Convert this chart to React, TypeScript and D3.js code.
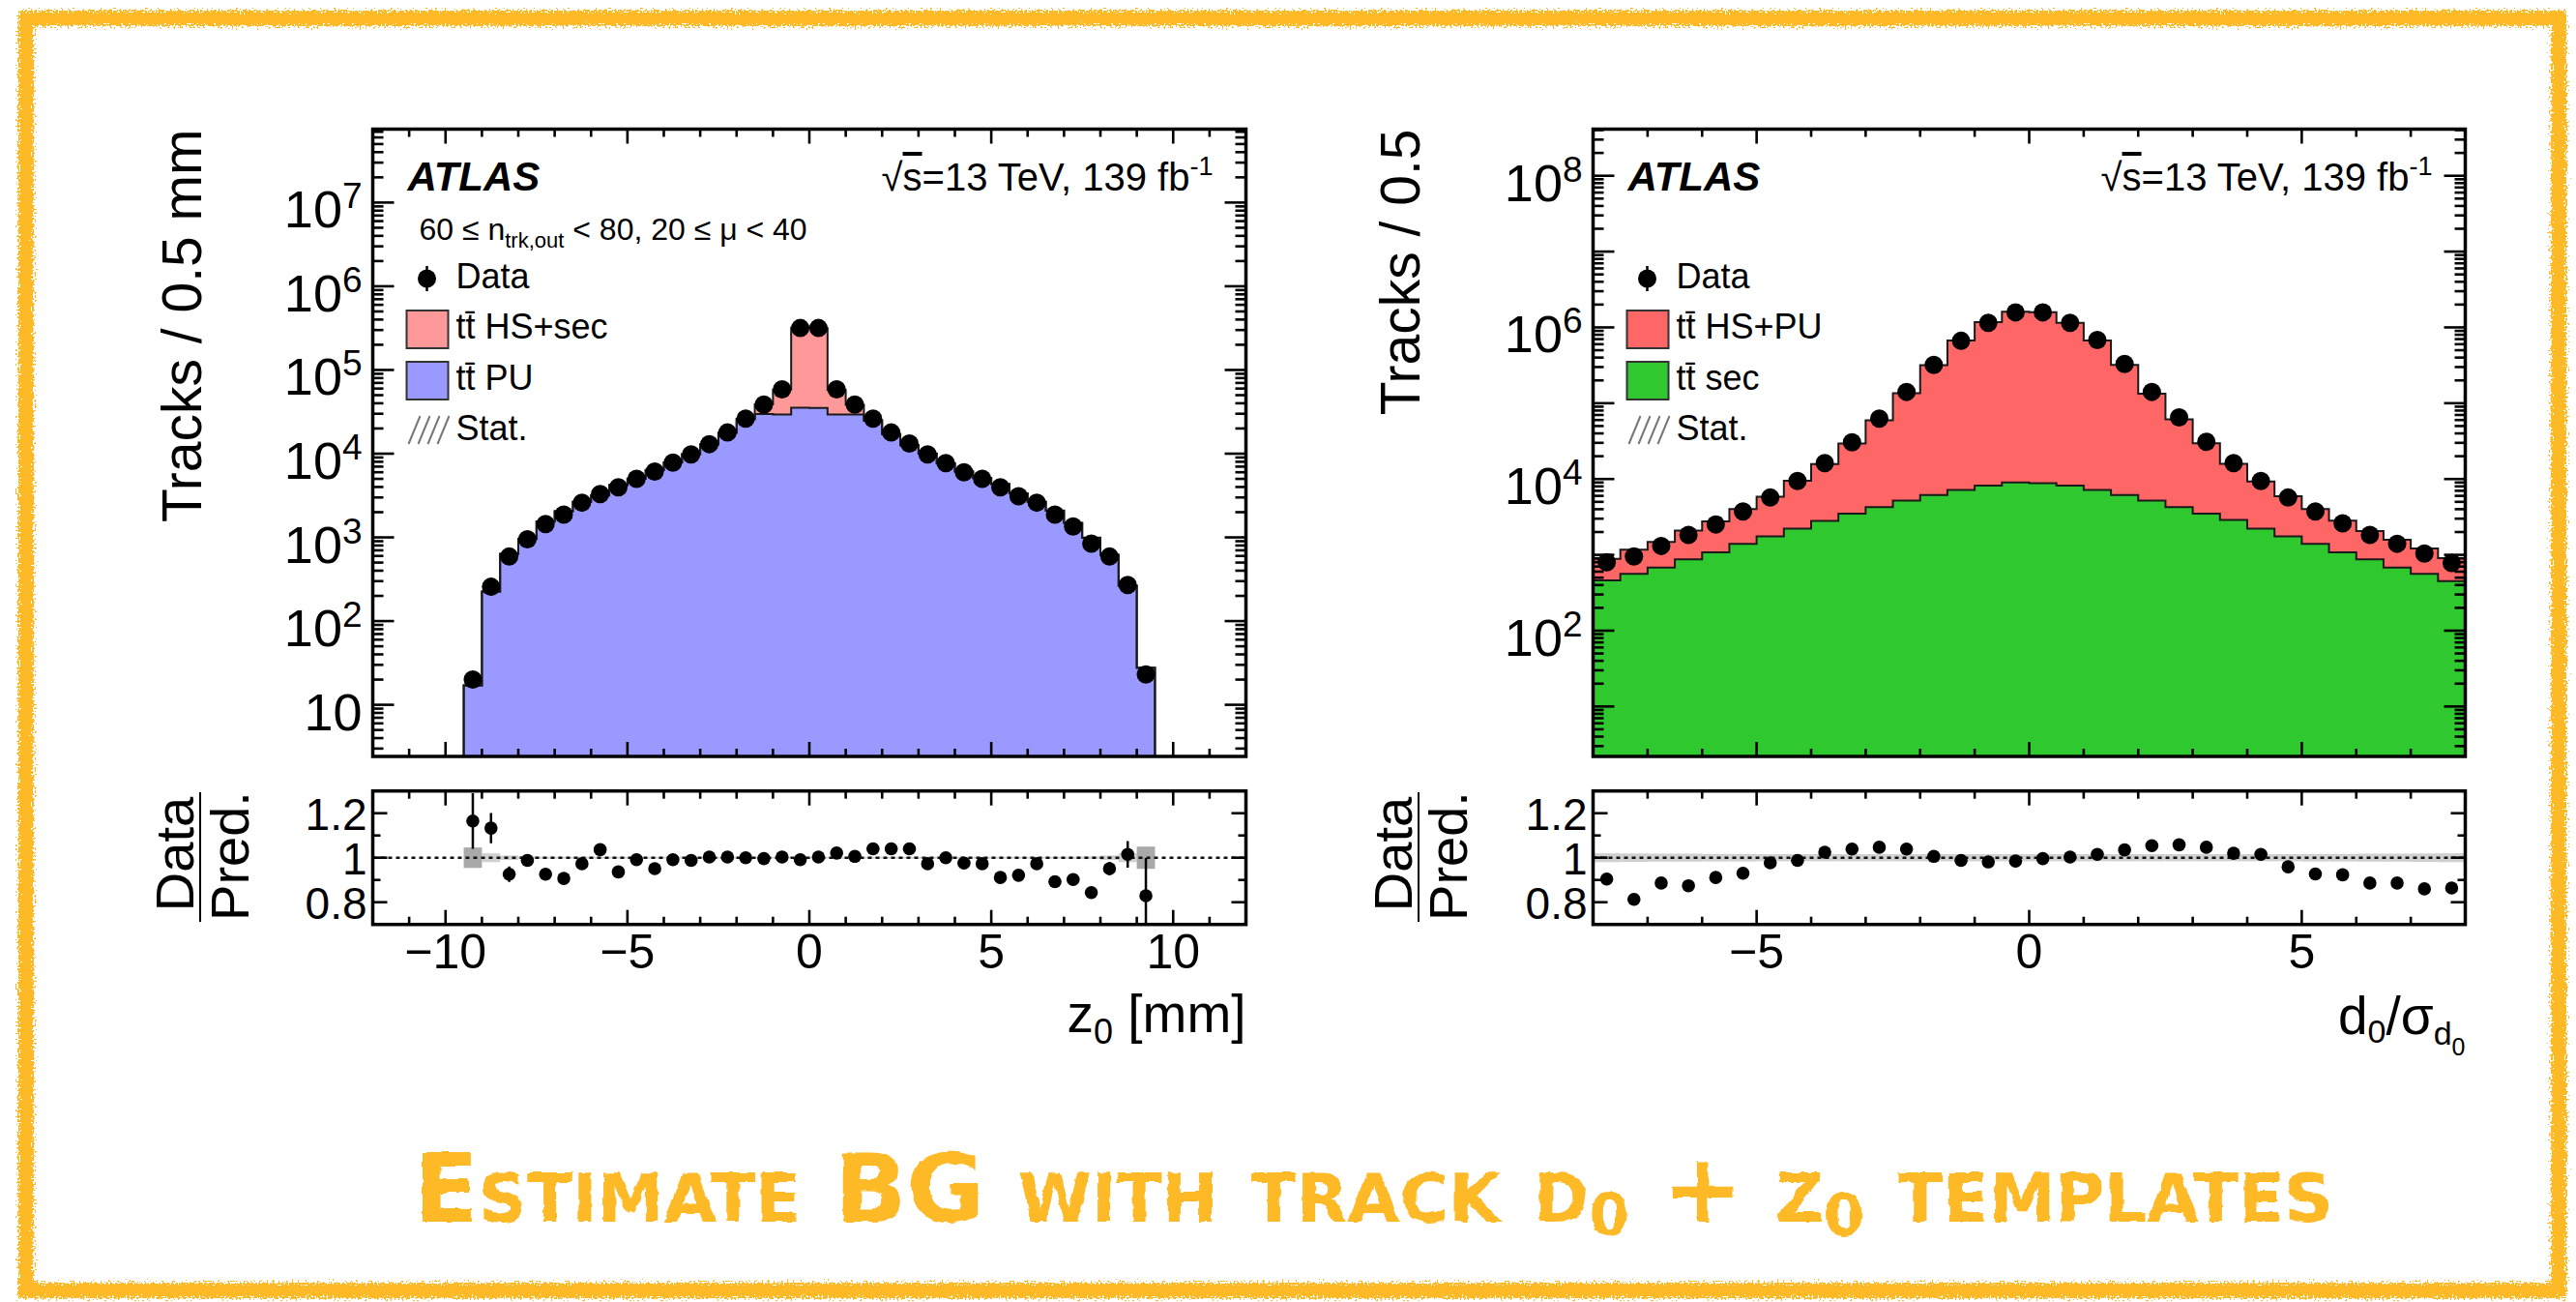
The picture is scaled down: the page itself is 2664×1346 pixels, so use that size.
import React from "react";
import * as d3 from "d3";

const FONT = "'Liberation Sans', Arial, Helvetica, sans-serif";

// ---------------- z0 panel (left) ----------------
const Z0_BIN_CENTERS = [-9.25, -8.75, -8.25, -7.75, -7.25, -6.75, -6.25, -5.75, -5.25, -4.75, -4.25, -3.75, -3.25, -2.75, -2.25, -1.75, -1.25, -0.75, -0.25, 0.25, 0.75, 1.25, 1.75, 2.25, 2.75, 3.25, 3.75, 4.25, 4.75, 5.25, 5.75, 6.25, 6.75, 7.25, 7.75, 8.25, 8.75, 9.25];
const Z0_DATA = [20, 257, 590, 950, 1440, 1870, 2600, 3300, 3960, 5000, 6100, 7800, 9800, 13000, 17900, 26300, 38600, 58600, 317000, 317000, 58600, 38600, 26300, 17900, 13200, 9800, 7700, 6000, 5000, 3960, 3100, 2600, 1870, 1350, 840, 590, 270, 23];
const Z0_RATIO = [1.165, 1.133, 0.926, 0.988, 0.926, 0.907, 0.973, 1.036, 0.936, 0.991, 0.951, 0.991, 0.988, 1.003, 1.003, 1.0, 0.996, 1.003, 0.991, 1.003, 1.021, 1.006, 1.04, 1.04, 1.04, 0.973, 1.0, 0.976, 0.973, 0.911, 0.921, 0.973, 0.892, 0.902, 0.843, 0.951, 1.015, 0.829];
const Z0_RATIO_ERR = [0.125, 0.068, 0.035, 0.02, 0.015, 0.012, 0.01, 0.01, 0.01, 0.008, 0.008, 0.006, 0.006, 0.005, 0.005, 0.005, 0.004, 0.004, 0.002, 0.002, 0.004, 0.004, 0.005, 0.005, 0.005, 0.006, 0.006, 0.008, 0.008, 0.01, 0.01, 0.01, 0.012, 0.015, 0.02, 0.03, 0.06, 0.17];
const Z0_HS_SEC = [0.2, 3, 6, 9, 13, 17, 23, 29, 36, 45, 55, 70, 90, 120, 170, 500, 9000, 29000, 284500, 281000, 28000, 9000, 500, 170, 120, 90, 70, 55, 45, 36, 29, 23, 17, 13, 9, 6, 3, 0.2];
const Z0_MC_STAT = [0.046, 0.02, 0.01, 0.006, 0.005, 0.004, 0.004, 0.004, 0.004, 0.004, 0.004, 0.004, 0.004, 0.004, 0.004, 0.004, 0.004, 0.004, 0.004, 0.004, 0.004, 0.004, 0.004, 0.004, 0.004, 0.004, 0.004, 0.004, 0.004, 0.004, 0.004, 0.004, 0.004, 0.005, 0.006, 0.01, 0.02, 0.05];
const Z0_X_TICK_LABELS = [-10, -5, 0, 5, 10];
const Z0_Y_LABEL_EXPONENTS = [1, 2, 3, 4, 5, 6, 7];

// ---------------- d0 significance panel (right) ----------------
const D0_BIN_CENTERS = [-7.75, -7.25, -6.75, -6.25, -5.75, -5.25, -4.75, -4.25, -3.75, -3.25, -2.75, -2.25, -1.75, -1.25, -0.75, -0.25, 0.25, 0.75, 1.25, 1.75, 2.25, 2.75, 3.25, 3.75, 4.25, 4.75, 5.25, 5.75, 6.25, 6.75, 7.25, 7.75];
const D0_DATA = [800, 950, 1310, 1830, 2520, 3730, 5700, 9400, 16200, 30500, 62500, 141000, 320000, 665000, 1150000, 1580000, 1580000, 1150000, 680000, 330000, 141000, 65000, 31000, 16200, 9400, 5700, 3730, 2600, 1830, 1400, 1040, 780];
const D0_RATIO = [0.904, 0.813, 0.886, 0.874, 0.911, 0.93, 0.977, 0.988, 1.025, 1.039, 1.047, 1.039, 1.006, 0.988, 0.981, 0.985, 0.996, 1.003, 1.015, 1.035, 1.054, 1.058, 1.047, 1.02, 1.015, 0.959, 0.927, 0.923, 0.886, 0.886, 0.86, 0.864];
const D0_RATIO_ERR = [0.01, 0.01, 0.009, 0.008, 0.007, 0.006, 0.005, 0.004, 0.003, 0.002, 0.002, 0.001, 0.001, 0.001, 0.001, 0.001, 0.001, 0.001, 0.001, 0.001, 0.001, 0.002, 0.002, 0.003, 0.004, 0.005, 0.006, 0.007, 0.008, 0.009, 0.01, 0.01];
const D0_SEC = [460, 560, 680, 870, 1080, 1400, 1750, 2220, 2800, 3500, 4270, 5200, 6150, 7200, 8200, 9000, 8800, 8200, 7200, 6150, 5200, 4270, 3500, 2890, 2220, 1750, 1400, 1080, 870, 680, 560, 450];
const D0_MC_STAT = [0.02, 0.019, 0.018, 0.018, 0.017, 0.017, 0.016, 0.016, 0.016, 0.016, 0.016, 0.016, 0.016, 0.016, 0.016, 0.016, 0.016, 0.016, 0.016, 0.016, 0.016, 0.016, 0.016, 0.016, 0.016, 0.016, 0.017, 0.017, 0.018, 0.018, 0.019, 0.02];
const D0_X_TICK_LABELS = [-5, 0, 5];
const D0_Y_LABEL_EXPONENTS = [2, 4, 6, 8];

const RATIO_TICK_LABELS = [0.8, 1, 1.2];

// ---------------- layout ----------------
const Y_TOP = 133.5;
const Y_BOT = 782;
const R_TOP = 817.7;
const R_BOT = 955.7;
const ORANGE = "#fdb927";

type PanelCfg = {
  id: string;
  x0: number;
  x1: number;
  xDomain: [number, number];
  yExp: [number, number];
  centers: number[];
  binW: number;
  data: number[];
  ratio: number[];
  ratioErr: number[];
  mcStat: number[];
  lower: number[];
  total: number[];
  lowerColor: string;
  upperColor: string;
  upperLabel: string;
  lowerLabel: string;
  yLabelExps: number[];
  xTickLabels: number[];
  yTitle: string;
  subtitle: boolean;
  xTitle: "z0" | "d0";
  labelShift: number;
};

const z0Total = Z0_DATA.map((d, i) => d / Z0_RATIO[i]);
const d0Total = D0_DATA.map((d, i) => d / D0_RATIO[i]);

const LEFT: PanelCfg = {
  id: "L",
  x0: 385.5,
  x1: 1288.5,
  xDomain: [-12, 12],
  yExp: [0.383, 7.877],
  centers: Z0_BIN_CENTERS,
  binW: 0.5,
  data: Z0_DATA,
  ratio: Z0_RATIO,
  ratioErr: Z0_RATIO_ERR,
  mcStat: Z0_MC_STAT,
  lower: z0Total.map((t, i) => t - Z0_HS_SEC[i]),
  total: z0Total,
  lowerColor: "#9999ff",
  upperColor: "#ff9999",
  upperLabel: "HS+sec",
  lowerLabel: "PU",
  yLabelExps: Z0_Y_LABEL_EXPONENTS,
  xTickLabels: Z0_X_TICK_LABELS,
  yTitle: "Tracks / 0.5 mm",
  subtitle: true,
  xTitle: "z0",
  labelShift: 0,
};

const RIGHT: PanelCfg = {
  id: "R",
  x0: 1647.5,
  x1: 2549.5,
  xDomain: [-8, 8],
  yExp: [0.341, 8.615],
  centers: D0_BIN_CENTERS,
  binW: 0.5,
  data: D0_DATA,
  ratio: D0_RATIO,
  ratioErr: D0_RATIO_ERR,
  mcStat: D0_MC_STAT,
  lower: D0_SEC,
  total: d0Total,
  lowerColor: "#2fc82f",
  upperColor: "#ff6666",
  upperLabel: "HS+PU",
  lowerLabel: "sec",
  yLabelExps: D0_Y_LABEL_EXPONENTS,
  xTickLabels: D0_X_TICK_LABELS,
  yTitle: "Tracks / 0.5",
  subtitle: false,
  xTitle: "d0",
  labelShift: 1260,
};

const fmtMinus = (v: number) => (v < 0 ? "\u2212" + Math.abs(v) : String(v));

function Panel({ cfg }: { cfg: PanelCfg }) {
  const { x0, x1 } = cfg;
  const xs = d3.scaleLinear().domain(cfg.xDomain).range([x0, x1]);
  const ys = d3
    .scaleLog()
    .domain([Math.pow(10, cfg.yExp[0]), Math.pow(10, cfg.yExp[1])])
    .range([Y_BOT, Y_TOP])
    .clamp(true);
  const yr = d3.scaleLinear().domain([0.7, 1.3]).range([R_BOT, R_TOP]);

  const hw = cfg.binW / 2;
  const stepPts = (vals: number[]) => {
    const pts: [number, number][] = [];
    const lo = cfg.centers[0] - hw;
    const hi = cfg.centers[cfg.centers.length - 1] + hw;
    pts.push([lo, 1e-3]);
    cfg.centers.forEach((c, i) => {
      pts.push([c - hw, vals[i]]);
      pts.push([c + hw, vals[i]]);
    });
    pts.push([hi, 1e-3]);
    return pts;
  };
  const area = d3
    .area<[number, number]>()
    .x((d) => xs(d[0]))
    .y0(Y_BOT)
    .y1((d) => ys(d[1]));
  const line = d3
    .line<[number, number]>()
    .x((d) => xs(d[0]))
    .y((d) => ys(d[1]));

  // ticks
  const xMajor = d3.range(Math.ceil(cfg.xDomain[0] / 5) * 5, cfg.xDomain[1] + 1e-9, 5);
  const xMinor = d3
    .range(Math.ceil(cfg.xDomain[0]), cfg.xDomain[1] + 1e-9, 1)
    .filter((v) => Math.abs(v % 5) > 1e-9 && v > cfg.xDomain[0] && v < cfg.xDomain[1]);
  const yMajor: number[] = [];
  const yMinor: number[] = [];
  for (let e = Math.floor(cfg.yExp[0]); e <= Math.ceil(cfg.yExp[1]); e++) {
    if (e >= cfg.yExp[0] && e <= cfg.yExp[1]) yMajor.push(Math.pow(10, e));
    for (let k = 2; k <= 9; k++) {
      const v = k * Math.pow(10, e);
      const lv = Math.log10(v);
      if (lv > cfg.yExp[0] && lv < cfg.yExp[1]) yMinor.push(v);
    }
  }
  const rMajor = [0.8, 1.0, 1.2];
  const rMinor = [0.9, 1.1];

  const tickStroke = { stroke: "#000", strokeWidth: 2.6 };
  const lx = cfg.x0 + 35; // legend box x
  const legendRows = [298, 350, 403, 455];
  const sx = cfg.labelShift;

  return (
    <g>
      <defs>
        <clipPath id={`clipMain${cfg.id}`}>
          <rect x={x0} y={Y_TOP} width={x1 - x0} height={Y_BOT - Y_TOP} />
        </clipPath>
        <clipPath id={`clipRatio${cfg.id}`}>
          <rect x={x0} y={R_TOP} width={x1 - x0} height={R_BOT - R_TOP} />
        </clipPath>
      </defs>

      {/* ---------- main panel ---------- */}
      <g clipPath={`url(#clipMain${cfg.id})`}>
        <path d={area(stepPts(cfg.total)) || ""} fill={cfg.upperColor} />
        <path d={area(stepPts(cfg.lower)) || ""} fill={cfg.lowerColor} />
        <path d={line(stepPts(cfg.total)) || ""} fill="none" stroke="#1a1a1a" strokeWidth={2} />
        <path d={line(stepPts(cfg.lower)) || ""} fill="none" stroke="#1a1a1a" strokeWidth={2} />
      </g>
      {cfg.centers.map((c, i) => (
        <circle key={`m${i}`} cx={xs(c)} cy={ys(cfg.data[i])} r={9.5} fill="#000" />
      ))}
      <rect x={x0} y={Y_TOP} width={x1 - x0} height={Y_BOT - Y_TOP} fill="none" stroke="#000" strokeWidth={3.5} />

      {/* x ticks main (top & bottom) */}
      {xMajor.map((v) => (
        <g key={`xM${v}`}>
          <line x1={xs(v)} x2={xs(v)} y1={Y_TOP} y2={Y_TOP + 15} {...tickStroke} />
          <line x1={xs(v)} x2={xs(v)} y1={Y_BOT} y2={Y_BOT - 15} {...tickStroke} />
          <line x1={xs(v)} x2={xs(v)} y1={R_TOP} y2={R_TOP + 15} {...tickStroke} />
          <line x1={xs(v)} x2={xs(v)} y1={R_BOT} y2={R_BOT - 15} {...tickStroke} />
        </g>
      ))}
      {xMinor.map((v) => (
        <g key={`xm${v}`}>
          <line x1={xs(v)} x2={xs(v)} y1={Y_TOP} y2={Y_TOP + 8} {...tickStroke} />
          <line x1={xs(v)} x2={xs(v)} y1={Y_BOT} y2={Y_BOT - 8} {...tickStroke} />
          <line x1={xs(v)} x2={xs(v)} y1={R_TOP} y2={R_TOP + 8} {...tickStroke} />
          <line x1={xs(v)} x2={xs(v)} y1={R_BOT} y2={R_BOT - 8} {...tickStroke} />
        </g>
      ))}
      {/* y ticks main (left & right) */}
      {yMajor.map((v) => (
        <g key={`yM${v}`}>
          <line x1={x0} x2={x0 + 22} y1={ys(v)} y2={ys(v)} {...tickStroke} />
          <line x1={x1} x2={x1 - 22} y1={ys(v)} y2={ys(v)} {...tickStroke} />
        </g>
      ))}
      {yMinor.map((v) => (
        <g key={`ym${v}`}>
          <line x1={x0} x2={x0 + 11} y1={ys(v)} y2={ys(v)} {...tickStroke} />
          <line x1={x1} x2={x1 - 11} y1={ys(v)} y2={ys(v)} {...tickStroke} />
        </g>
      ))}
      {/* y tick labels */}
      {cfg.yLabelExps.map((e) => (
        <text key={`yl${e}`} x={x0 - 11} y={ys(Math.pow(10, e)) + 26} textAnchor="end" fontSize={54} fontFamily={FONT}>
          10
          {e !== 1 && (
            <tspan dy={-20} fontSize={37}>
              {e}
            </tspan>
          )}
        </text>
      ))}

      {/* y title */}
      <text
        transform={`translate(${208 + sx},${Y_TOP}) rotate(-90)`}
        textAnchor="end"
        fontSize={57}
        fontFamily={FONT}
      >
        {cfg.yTitle}
      </text>

      {/* ATLAS label etc */}
      <text x={x0 + 36} y={197} fontSize={42} fontWeight="bold" fontStyle="italic" fontFamily={FONT}>
        ATLAS
      </text>
      <text x={x1 - 34} y={197} textAnchor="end" fontSize={40} fontFamily={FONT}>
        {"\u221A"}
        <tspan style={{ textDecoration: "overline" }}>s</tspan>
        =13 TeV, 139 fb
        <tspan dy={-16} fontSize={27}>
          -1
        </tspan>
      </text>
      {cfg.subtitle && (
        <text x={x0 + 48} y={248} fontSize={32} fontFamily={FONT}>
          60 {"\u2264"} n
          <tspan dy={8} fontSize={22}>
            trk,out
          </tspan>
          <tspan dy={-8}> {"<"} 80, 20 {"\u2264"} {"\u03BC"} {"<"} 40</tspan>
        </text>
      )}

      {/* legend */}
      <g fontFamily={FONT} fontSize={36}>
        <line x1={x0 + 56} x2={x0 + 56} y1={legendRows[0] - 23} y2={legendRows[0] + 3} stroke="#000" strokeWidth={2.5} />
        <circle cx={x0 + 56} cy={legendRows[0] - 10} r={9.5} fill="#000" />
        <text x={x0 + 86} y={legendRows[0]}>Data</text>

        <rect x={lx} y={legendRows[1] - 29} width={43} height={39} fill={cfg.upperColor} stroke="#333" strokeWidth={2} />
        <text x={x0 + 86} y={legendRows[1]}>
          t{"t\u0304"} {cfg.upperLabel}
        </text>

        <rect x={lx} y={legendRows[2] - 29} width={43} height={39} fill={cfg.lowerColor} stroke="#333" strokeWidth={2} />
        <text x={x0 + 86} y={legendRows[2]}>
          t{"t\u0304"} {cfg.lowerLabel}
        </text>

        {[0, 1, 2, 3].map((k) => (
          <line
            key={`h${k}`}
            x1={lx + 2 + k * 10}
            y1={legendRows[3] + 4}
            x2={lx + 14 + k * 10}
            y2={legendRows[3] - 25}
            stroke="#777"
            strokeWidth={2}
          />
        ))}
        <text x={x0 + 86} y={legendRows[3]}>Stat.</text>
      </g>

      {/* ---------- ratio panel ---------- */}
      <g clipPath={`url(#clipRatio${cfg.id})`}>
        {cfg.centers.map((c, i) => (
          <rect
            key={`st${i}`}
            x={xs(c - hw)}
            width={xs(c + hw) - xs(c - hw)}
            y={yr(1 + cfg.mcStat[i])}
            height={yr(1 - cfg.mcStat[i]) - yr(1 + cfg.mcStat[i])}
            fill={cfg.mcStat[i] > 0.03 ? "#9a9a9a" : "#c8c8c8"}
            opacity={0.85}
          />
        ))}
        <line x1={x0} x2={x1} y1={yr(1)} y2={yr(1)} stroke="#111" strokeWidth={2.5} strokeDasharray="4 4" />
        {cfg.centers.map((c, i) => (
          <line
            key={`re${i}`}
            x1={xs(c)}
            x2={xs(c)}
            y1={yr(cfg.ratio[i] - cfg.ratioErr[i])}
            y2={yr(cfg.ratio[i] + cfg.ratioErr[i])}
            stroke="#000"
            strokeWidth={2.5}
          />
        ))}
        {cfg.centers.map((c, i) => (
          <circle key={`rm${i}`} cx={xs(c)} cy={yr(cfg.ratio[i])} r={6.8} fill="#000" />
        ))}
      </g>
      <rect x={x0} y={R_TOP} width={x1 - x0} height={R_BOT - R_TOP} fill="none" stroke="#000" strokeWidth={3.5} />
      {rMajor.map((v) => (
        <g key={`rM${v}`}>
          <line x1={x0} x2={x0 + 15} y1={yr(v)} y2={yr(v)} {...tickStroke} />
          <line x1={x1} x2={x1 - 15} y1={yr(v)} y2={yr(v)} {...tickStroke} />
        </g>
      ))}
      {rMinor.map((v) => (
        <g key={`rm${v}`}>
          <line x1={x0} x2={x0 + 8} y1={yr(v)} y2={yr(v)} {...tickStroke} />
          <line x1={x1} x2={x1 - 8} y1={yr(v)} y2={yr(v)} {...tickStroke} />
        </g>
      ))}
      {RATIO_TICK_LABELS.map((v) => (
        <text key={`rl${v}`} x={x0 - 6} y={yr(v) + 17} textAnchor="end" fontSize={46} fontFamily={FONT}>
          {String(v)}
        </text>
      ))}
      {/* Data / Pred. */}
      <g fontFamily={FONT} fontSize={56}>
        <text transform={`translate(${200 + sx},${883}) rotate(-90)`} textAnchor="middle">
          Data
        </text>
        <line x1={207 + sx} x2={207 + sx} y1={819} y2={953} stroke="#000" strokeWidth={2} />
        <text transform={`translate(${257 + sx},${885}) rotate(-90)`} textAnchor="middle">
          Pred.
        </text>
      </g>

      {/* x tick labels */}
      {cfg.xTickLabels.map((v) => (
        <text key={`xl${v}`} x={xs(v)} y={1001} textAnchor="middle" fontSize={50} fontFamily={FONT}>
          {fmtMinus(v)}
        </text>
      ))}

      {/* x title */}
      {cfg.xTitle === "z0" ? (
        <text x={x1} y={1067} textAnchor="end" fontSize={55} fontFamily={FONT}>
          z
          <tspan dy={12} fontSize={36}>
            0
          </tspan>
          <tspan dy={-12}> [mm]</tspan>
        </text>
      ) : (
        <text x={x1} y={1069} textAnchor="end" fontSize={55} fontFamily={FONT}>
          d
          <tspan dy={9} fontSize={34}>
            0
          </tspan>
          <tspan dy={-9}>/{"\u03C3"}</tspan>
          <tspan dy={11} fontSize={34}>
            d
          </tspan>
          <tspan dy={11} fontSize={25}>
            0
          </tspan>
        </text>
      )}
    </g>
  );
}

function Border() {
  return (
    <g>
      <rect
        x={27}
        y={19}
        width={2619}
        height={1315}
        fill="none"
        stroke={ORANGE}
        strokeWidth={16}
        filter="url(#rough)"
      />
    </g>
  );
}

function Title() {
  return (
    <text
      x={428}
      y={1263}
      fontSize={98}
      fontWeight="bold"
      fill={ORANGE}
      fontFamily="'DejaVu Sans Condensed', 'DejaVu Sans', sans-serif"
      style={{ fontVariant: "small-caps", fontStretch: "condensed" }}
      textLength={1984}
      lengthAdjust="spacingAndGlyphs"
      filter="url(#roughText)"
    >
      Estimate BG with track d
      <tspan dy={14} fontSize={60}>
        0
      </tspan>
      <tspan dy={-14}> + z</tspan>
      <tspan dy={14} fontSize={60}>
        0
      </tspan>
      <tspan dy={-14}> templates</tspan>
    </text>
  );
}

export default function App() {
  return (
    <svg
      width={2664}
      height={1346}
      viewBox="0 0 2664 1346"
      style={{ position: "absolute", left: 0, top: 0, display: "block", background: "#fff" }}
    >
      <defs>
        <filter id="rough" x="-2%" y="-3%" width="104%" height="106%">
          <feTurbulence type="fractalNoise" baseFrequency="0.5" numOctaves="2" seed="4" result="noise" />
          <feDisplacementMap in="SourceGraphic" in2="noise" scale="14" xChannelSelector="R" yChannelSelector="G" />
        </filter>
        <filter id="roughText" x="-2%" y="-20%" width="104%" height="140%">
          <feTurbulence type="fractalNoise" baseFrequency="0.08" numOctaves="2" seed="7" result="noise" />
          <feDisplacementMap in="SourceGraphic" in2="noise" scale="5" xChannelSelector="R" yChannelSelector="G" />
        </filter>
      </defs>
      <rect x={0} y={0} width={2664} height={1346} fill="#fff" />
      <Border />
      <Panel cfg={LEFT} />
      <Panel cfg={RIGHT} />
      <Title />
    </svg>
  );
}
